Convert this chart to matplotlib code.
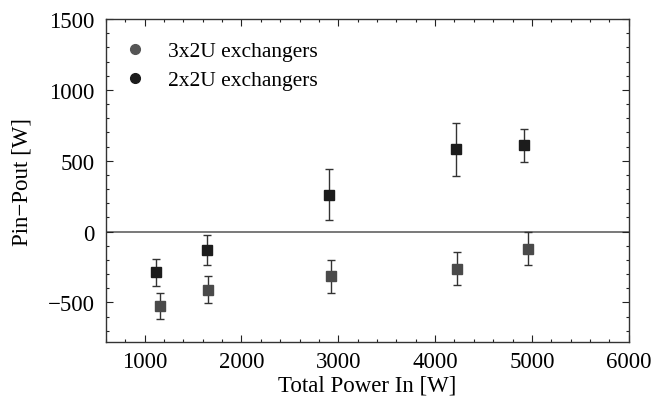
import numpy as np
import matplotlib.pyplot as plt
from matplotlib.lines import Line2D
from matplotlib.ticker import MultipleLocator

# 3x2U exchangers
p3_x = [1158, 1656, 2923, 4231, 4954]
p3_y = [-524, -410, -316, -262, -120]
p3_err = [90, 97, 118, 117, 118]

# 2x2U exchangers
p2_x = [1116, 1640, 2903, 4214, 4916]
p2_y = [-288, -132, 262, 580, 608]
p2_err = [95, 105, 180, 187, 117]

c3 = "#4a4a4a"
c2 = "#1c1c1c"

plt.rcParams['font.family'] = ['Liberation Serif', 'DejaVu Serif']

fig = plt.figure(figsize=(6.53, 4.10), dpi=100)
ax = fig.add_subplot(111)
fig.subplots_adjust(left=0.162, right=0.963, top=0.951, bottom=0.163)

ax.axhline(0, color="#555555", lw=1.1, zorder=1)

ax.errorbar(p3_x, p3_y, yerr=p3_err, fmt="s", color=c3, ms=7.5,
            ecolor="#333333", elinewidth=1, capsize=3, capthick=1, zorder=3)
ax.errorbar(p2_x, p2_y, yerr=p2_err, fmt="s", color=c2, ms=7.5,
            ecolor="#333333", elinewidth=1, capsize=3, capthick=1, zorder=3)

ax.set_xlim(600, 6000)
ax.set_ylim(-780, 1500)
ax.xaxis.set_major_locator(MultipleLocator(1000))
ax.xaxis.set_minor_locator(MultipleLocator(200))
ax.yaxis.set_major_locator(MultipleLocator(500))
ax.yaxis.set_minor_locator(MultipleLocator(100))
ax.tick_params(which="both", direction="in", top=True, right=True,
               labelsize=16.5, width=0.8, color="#222222")
ax.tick_params(which="major", length=5)
ax.tick_params(which="minor", length=2.5)
ax.tick_params(axis="x", which="major", pad=6)
ax.tick_params(axis="y", which="major", pad=8)
for s in ax.spines.values():
    s.set_linewidth(1)
    s.set_color("#333333")

ax.set_xlabel("Total Power In [W]", fontsize=16.5, labelpad=2)
ax.set_ylabel("Pin\u2212Pout [W]", fontsize=16.5, labelpad=11)

handles = [Line2D([], [], ls="none", marker="o", color="#555555", ms=7),
           Line2D([], [], ls="none", marker="o", color=c2, ms=7)]
ax.legend(handles, ["3x2U exchangers", "2x2U exchangers"], loc="upper left",
          bbox_to_anchor=(0.036, 0.932), frameon=False, fontsize=15.5,
          handlelength=1, handletextpad=1.0, borderpad=0, borderaxespad=0,
          labelspacing=0.42)

plt.savefig("out.png", dpi=100)
